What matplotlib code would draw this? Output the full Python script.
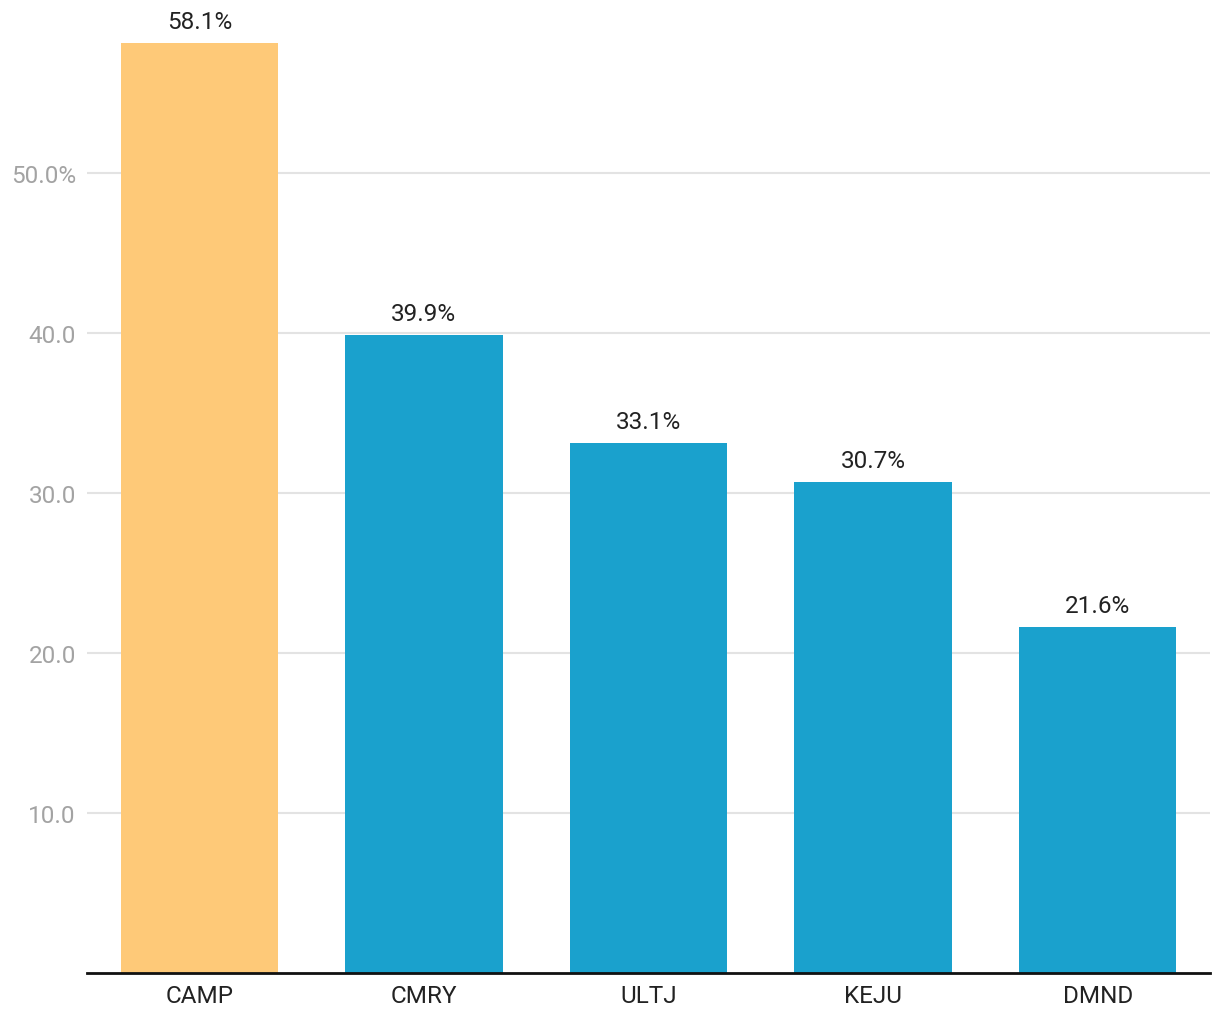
import matplotlib.pyplot as plt

plt.rcParams['font.family'] = ['Roboto', 'DejaVu Sans']

tickers = ['CAMP', 'CMRY', 'ULTJ', 'KEJU', 'DMND']
values = [58.1, 39.9, 33.1, 30.7, 21.6]
bar_colors = ['#fec978', '#1aa1cd', '#1aa1cd', '#1aa1cd', '#1aa1cd']
y_ticks = [10, 20, 30, 40, 50]
y_tick_labels = ['10.0', '20.0', '30.0', '40.0', '50.0%']

W, H = 1220, 1020
fig = plt.figure(figsize=(W / 100, H / 100), dpi=100)
ax = fig.add_axes([87 / W, 1 - 974 / H, (1210 - 87) / W, 960 / H])

x = range(len(tickers))
ax.bar(x, values, width=0.7, color=bar_colors, zorder=2)

for xi, v in zip(x, values):
    ax.annotate(f'{v}%', (xi, v), xytext=(0, 10), textcoords='offset pixels',
                ha='center', va='bottom', fontsize=17.5, color='#222222')

ax.set_xlim(-0.5, len(tickers) - 0.5)
ax.set_ylim(0, 60)
ax.set_xticks(list(x))
ax.set_xticklabels(tickers, fontsize=17.5, color='#222222')
ax.set_yticks(y_ticks)
ax.set_yticklabels(y_tick_labels, fontsize=17.5, color='#a3a3a3')
ax.tick_params(axis='both', length=0)
ax.tick_params(axis='y', pad=8)
ax.tick_params(axis='x', pad=8)

ax.grid(axis='y', color='#e3e3e3', linewidth=1.5, zorder=0)
for s in ['top', 'right', 'left']:
    ax.spines[s].set_visible(False)
ax.spines['bottom'].set_linewidth(2)
ax.spines['bottom'].set_color('#111111')
ax.spines['bottom'].set_zorder(3)

fig.savefig('out.png', dpi=100)
